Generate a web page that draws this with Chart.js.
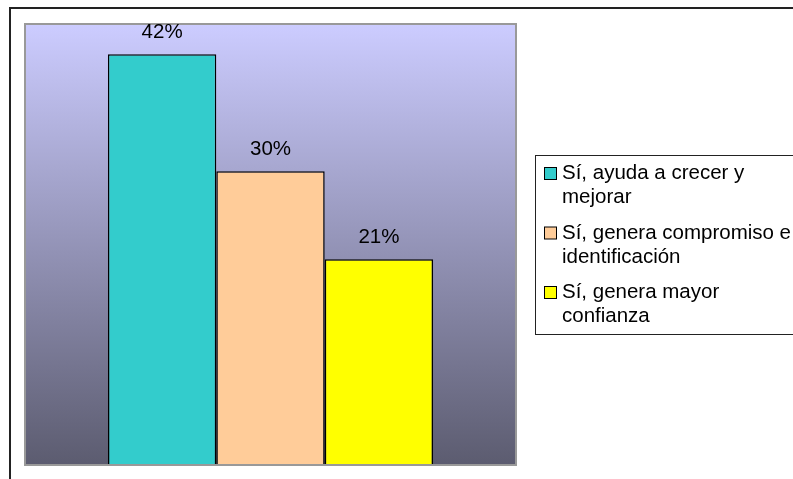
<!DOCTYPE html>
<html lang="es">
<head>
<meta charset="utf-8">
<title>Gráfico</title>
<script src="https://cdn.jsdelivr.net/npm/chart.js@4/dist/chart.umd.min.js"></script>
<style>
  html, body { margin: 0; padding: 0; background: #fff; }
  canvas { display: block; }
</style>
</head>
<body>
<canvas id="grafico" width="793" height="479"></canvas>
<script>
// Respuestas (porcentaje)
const respuestas = [
  ['Sí, ayuda a crecer y', 'mejorar'],
  ['Sí, genera compromiso e', 'identificación'],
  ['Sí, genera mayor', 'confianza']
];
const porcentajes = [42, 30, 21];
const colores = ['#33cccc', '#ffcc99', '#ffff00'];
const ejeMax = 45;

const fuente = '20.5px "Liberation Sans", Arial, sans-serif';

// fondo degradado del área de trazado y marco exterior
const fondo = {
  id: 'fondo',
  beforeDraw(chart) {
    const { ctx, chartArea: a } = chart;
    ctx.save();
    ctx.fillStyle = '#fff';
    ctx.fillRect(0, 0, chart.width, chart.height);
    // marco exterior
    ctx.strokeStyle = '#222';
    ctx.lineWidth = 2;
    ctx.beginPath();
    ctx.moveTo(10, chart.height);
    ctx.lineTo(10, 8);
    ctx.lineTo(chart.width, 8);
    ctx.stroke();
    const g = ctx.createLinearGradient(0, a.top, 0, a.bottom);
    g.addColorStop(0, '#ccccff');
    g.addColorStop(1, '#5c5c70');
    ctx.fillStyle = g;
    ctx.fillRect(a.left, a.top, a.right - a.left, a.bottom - a.top);
    ctx.strokeStyle = '#999';
    ctx.lineWidth = 2;
    ctx.strokeRect(a.left - 1, a.top - 1, a.right - a.left + 2, a.bottom - a.top + 2);
    ctx.restore();
  }
};

// etiquetas de valor sobre cada barra
const etiquetas = {
  id: 'etiquetas',
  afterDatasetsDraw(chart) {
    const { ctx } = chart;
    ctx.save();
    ctx.font = fuente;
    ctx.fillStyle = '#000';
    ctx.textAlign = 'center';
    ctx.textBaseline = 'alphabetic';
    chart.data.datasets.forEach((ds, i) => {
      const bar = chart.getDatasetMeta(i).data[0];
      ctx.fillText(ds.data[0] + '%', bar.x, bar.y - 16);
    });
    ctx.restore();
  }
};

// leyenda con texto en dos líneas
const leyenda = {
  id: 'leyenda',
  afterDraw(chart) {
    const { ctx } = chart;
    ctx.save();
    ctx.strokeStyle = '#222';
    ctx.lineWidth = 1;
    ctx.strokeRect(535.5, 155.5, 300, 179);
    ctx.font = fuente;
    ctx.textBaseline = 'alphabetic';
    chart.data.datasets.forEach((ds, i) => {
      const y = 179 + i * 59.5;
      ctx.fillStyle = ds.backgroundColor;
      ctx.fillRect(544.5, y - 11.5, 12, 12);
      ctx.strokeStyle = '#000';
      ctx.strokeRect(544.5, y - 11.5, 12, 12);
      ctx.fillStyle = '#000';
      ds.label.forEach((linea, j) => ctx.fillText(linea, 562, y + j * 24));
    });
    ctx.restore();
  }
};

new Chart(document.getElementById('grafico'), {
  type: 'bar',
  data: {
    labels: [''],
    datasets: respuestas.map((r, i) => ({
      label: r,
      data: [porcentajes[i]],
      backgroundColor: colores[i],
      borderColor: '#000',
      borderWidth: 1.5,
      barPercentage: 1,
      categoryPercentage: 0.665
    }))
  },
  options: {
    responsive: false,
    animation: false,
    layout: { padding: { left: 26, top: 25, right: 278, bottom: 15 } },
    plugins: { legend: { display: false }, tooltip: { enabled: false } },
    scales: {
      x: { display: false },
      y: { display: false, min: 0, max: ejeMax }
    }
  },
  plugins: [fondo, etiquetas, leyenda]
});
</script>
</body>
</html>
